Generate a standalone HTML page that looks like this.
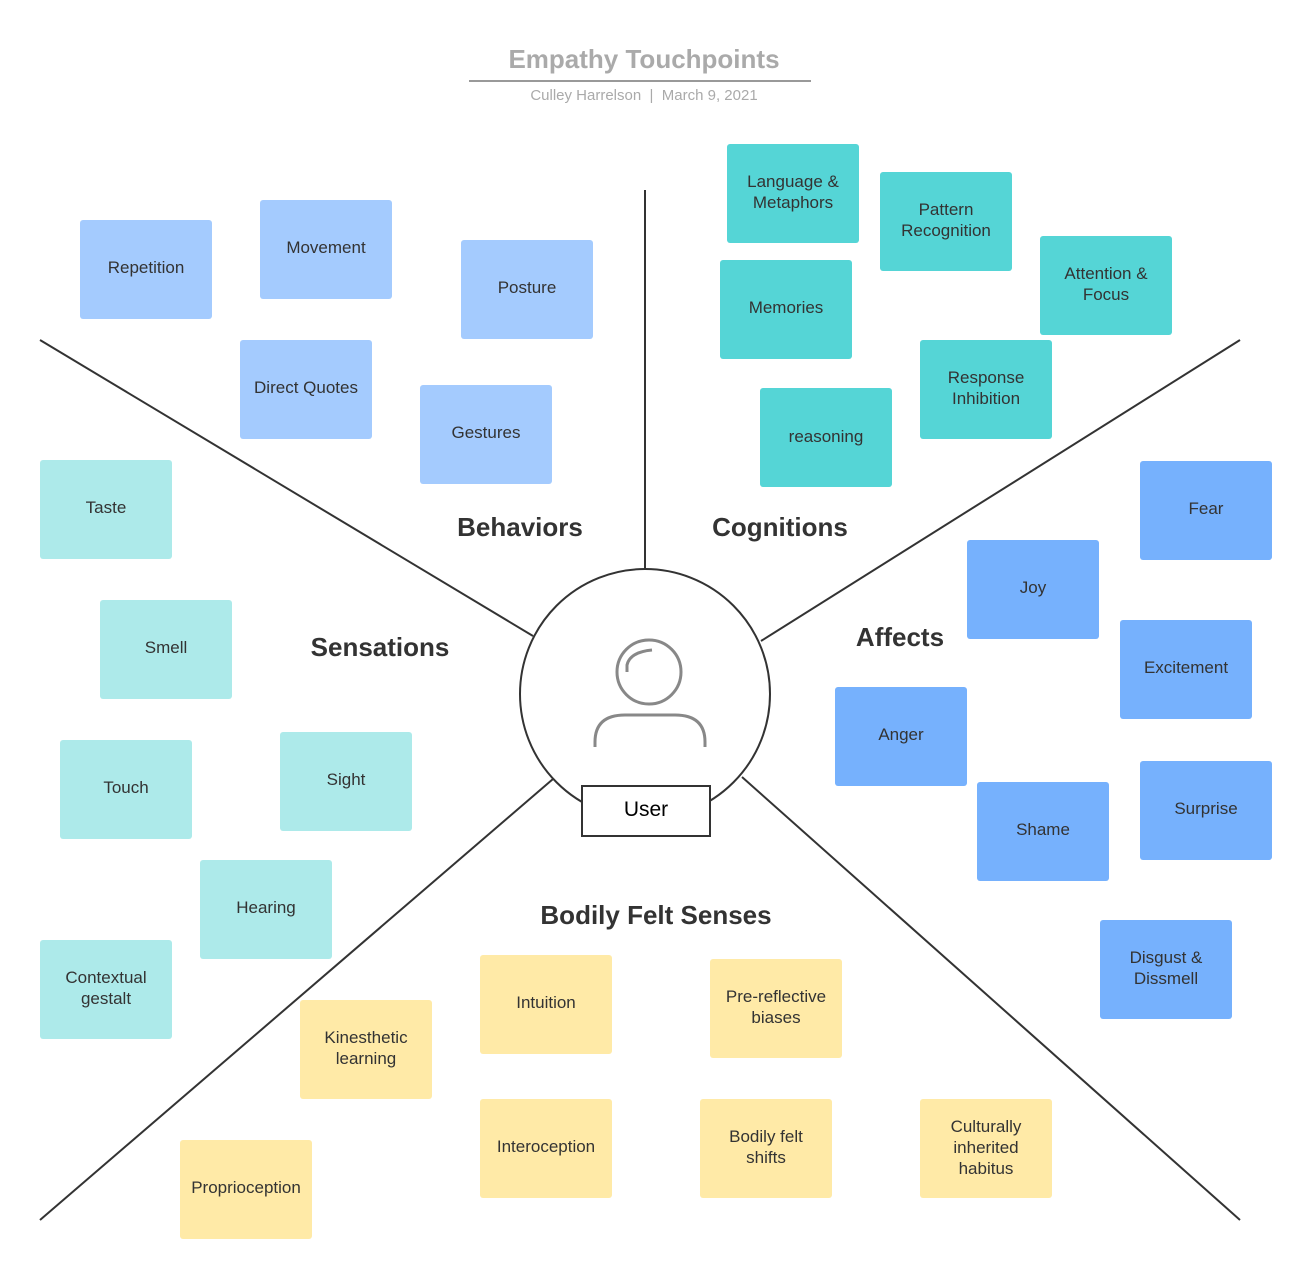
<!DOCTYPE html>
<html><head><meta charset="utf-8"><style>body{margin:0;background:#fff}svg{display:block}text{font-family:"Liberation Sans",Arial,sans-serif}</style></head><body>
<svg width="1312" height="1279" viewBox="0 0 1312 1279" xmlns="http://www.w3.org/2000/svg">
<rect width="1312" height="1279" fill="#fff"/>
<text x="644" y="68" font-size="26" font-weight="bold" fill="#aaa" text-anchor="middle">Empathy Touchpoints</text>
<line x1="469" y1="81" x2="811" y2="81" stroke="#999" stroke-width="2"/>
<text x="644" y="100" font-size="15" fill="#aaa" text-anchor="middle">Culley Harrelson&#160;&#160;|&#160;&#160;March 9, 2021</text>
<g stroke="#333" stroke-width="2" fill="none">
<line x1="645" y1="190" x2="645" y2="570"/>
<line x1="40" y1="340" x2="533" y2="636"/>
<line x1="1240" y1="340" x2="761" y2="641"/>
<line x1="40" y1="1220" x2="553" y2="779"/>
<line x1="1240" y1="1220" x2="742" y2="777"/>
<circle cx="645" cy="694" r="125" fill="#fff"/>
</g>
<g stroke="#888" stroke-width="3" fill="none">
<circle cx="649" cy="672" r="32"/>
<path d="M595 747 V742 Q595 715 625 715 H675 Q705 715 705 742 V747"/>
<path d="M627 672 V665 Q630 652 652 650" stroke-width="3"/>
</g>
<rect x="582" y="786" width="128" height="50" fill="#fff" stroke="#333" stroke-width="2"/>
<text x="646" y="816" font-size="21" fill="#000" text-anchor="middle">User</text>
<g font-size="26" font-weight="bold" fill="#333" text-anchor="middle">
<text x="520" y="536">Behaviors</text>
<text x="780" y="536">Cognitions</text>
<text x="380" y="656">Sensations</text>
<text x="900" y="646">Affects</text>
<text x="656" y="924">Bodily Felt Senses</text>
</g>
<g font-size="17" fill="#333" text-anchor="middle">
<g fill="#a4cbfe">
<rect x="80" y="220" width="132" height="99" rx="3"/><rect x="260" y="200" width="132" height="99" rx="3"/><rect x="461" y="240" width="132" height="99" rx="3"/><rect x="240" y="340" width="132" height="99" rx="3"/><rect x="420" y="385" width="132" height="99" rx="3"/>
</g>
<text x="146" y="273">Repetition</text><text x="326" y="253">Movement</text><text x="527" y="293">Posture</text><text x="306" y="393">Direct Quotes</text><text x="486" y="438">Gestures</text>
<g fill="#55d5d6">
<rect x="727" y="144" width="132" height="99" rx="3"/><rect x="880" y="172" width="132" height="99" rx="3"/><rect x="1040" y="236" width="132" height="99" rx="3"/><rect x="720" y="260" width="132" height="99" rx="3"/><rect x="920" y="340" width="132" height="99" rx="3"/><rect x="760" y="388" width="132" height="99" rx="3"/>
</g>
<text x="793" y="187">Language &amp;</text><text x="793" y="208">Metaphors</text>
<text x="946" y="215">Pattern</text><text x="946" y="236">Recognition</text>
<text x="1106" y="279">Attention &amp;</text><text x="1106" y="300">Focus</text>
<text x="786" y="313">Memories</text>
<text x="986" y="383">Response</text><text x="986" y="404">Inhibition</text>
<text x="826" y="442">reasoning</text>
<g fill="#76b1fd">
<rect x="1140" y="461" width="132" height="99" rx="3"/><rect x="967" y="540" width="132" height="99" rx="3"/><rect x="1120" y="620" width="132" height="99" rx="3"/><rect x="835" y="687" width="132" height="99" rx="3"/><rect x="977" y="782" width="132" height="99" rx="3"/><rect x="1140" y="761" width="132" height="99" rx="3"/><rect x="1100" y="920" width="132" height="99" rx="3"/>
</g>
<text x="1206" y="514">Fear</text><text x="1033" y="593">Joy</text><text x="1186" y="673">Excitement</text><text x="901" y="740">Anger</text><text x="1043" y="835">Shame</text><text x="1206" y="814">Surprise</text>
<text x="1166" y="963">Disgust &amp;</text><text x="1166" y="984">Dissmell</text>
<g fill="#adeaea">
<rect x="40" y="460" width="132" height="99" rx="3"/><rect x="100" y="600" width="132" height="99" rx="3"/><rect x="60" y="740" width="132" height="99" rx="3"/><rect x="280" y="732" width="132" height="99" rx="3"/><rect x="200" y="860" width="132" height="99" rx="3"/><rect x="40" y="940" width="132" height="99" rx="3"/>
</g>
<text x="106" y="513">Taste</text><text x="166" y="653">Smell</text><text x="126" y="793">Touch</text><text x="346" y="785">Sight</text><text x="266" y="913">Hearing</text>
<text x="106" y="983">Contextual</text><text x="106" y="1004">gestalt</text>
<g fill="#ffeaa7">
<rect x="480" y="955" width="132" height="99" rx="3"/><rect x="710" y="959" width="132" height="99" rx="3"/><rect x="300" y="1000" width="132" height="99" rx="3"/><rect x="480" y="1099" width="132" height="99" rx="3"/><rect x="700" y="1099" width="132" height="99" rx="3"/><rect x="920" y="1099" width="132" height="99" rx="3"/><rect x="180" y="1140" width="132" height="99" rx="3"/>
</g>
<text x="546" y="1008">Intuition</text>
<text x="776" y="1002">Pre-reflective</text><text x="776" y="1023">biases</text>
<text x="366" y="1043">Kinesthetic</text><text x="366" y="1064">learning</text>
<text x="546" y="1152">Interoception</text>
<text x="766" y="1142">Bodily felt</text><text x="766" y="1163">shifts</text>
<text x="986" y="1132">Culturally</text><text x="986" y="1153">inherited</text><text x="986" y="1174">habitus</text>
<text x="246" y="1193">Proprioception</text>
</g>
</svg>
</body></html>
